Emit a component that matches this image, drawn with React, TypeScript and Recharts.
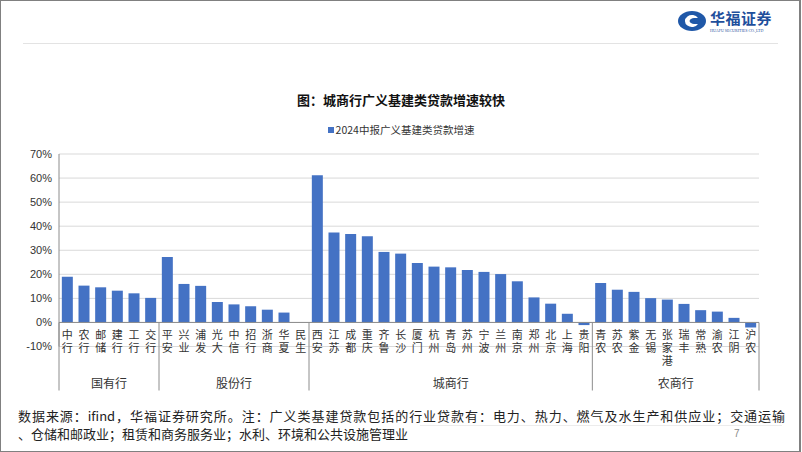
import React from "react";
import { BarChart, Bar, XAxis, YAxis, CartesianGrid, ReferenceLine } from "recharts";

const banks = [
  "中行", "农行", "邮储", "建行", "工行", "交行",
  "平安", "兴业", "浦发", "光大", "中信", "招行", "浙商", "华夏", "民生",
  "西安", "江苏", "成都", "重庆", "齐鲁", "长沙", "厦门", "杭州", "青岛", "苏州", "宁波", "兰州", "南京", "郑州", "北京", "上海", "贵阳",
  "青农", "苏农", "紫金", "无锡", "张家港", "瑞丰", "常熟", "渝农", "江阴", "沪农",
];
const growth = [
  19.0, 15.3, 14.6, 13.2, 12.1, 10.2,
  27.2, 16.0, 15.2, 8.5, 7.5, 6.7, 5.3, 4.1, 0,
  61.2, 37.4, 36.8, 35.8, 29.3, 28.6, 24.7, 23.2, 22.9, 21.8, 21.0, 20.1, 17.1, 10.4, 7.8, 3.6, -1.1,
  16.4, 13.6, 12.7, 10.1, 9.5, 7.7, 5.1, 4.5, 1.9, -2.1,
];
const groups = ["国有行", "股份行", "城商行", "农商行"];
const groupSizes = [6, 9, 17, 10];
const yTicks = [-10, 0, 10, 20, 30, 40, 50, 60, 70];

const data = banks.map((name, i) => ({ name, value: growth[i] }));

const cjk = '"Noto Sans CJK SC", "Noto Sans", sans-serif';
const blue = "#4472C4";

function CategoryTick(props: any) {
  const { x, y, payload, index } = props;
  const half = payload && payload.offset ? payload.offset : 8.33;
  const parts: React.ReactNode[] = [];
  let acc = 0;
  groupSizes.forEach((size, g) => {
    if (index === acc) {
      parts.push(
        <line key={"s" + g} x1={x - half} x2={x - half} y1={y - 24} y2={y + 44} stroke="#8c8c8c" strokeWidth={1} />
      );
      parts.push(
        <text key={"g" + g} x={x - half + size * half} y={y + 41} textAnchor="middle"
          fontSize={12} fill="#333" fontFamily={cjk}>
          {groups[g]}
        </text>
      );
    }
    acc += size;
  });
  if (index === banks.length - 1) {
    parts.push(<line key="end" x1={x + half} x2={x + half} y1={y - 24} y2={y + 44} stroke="#8c8c8c" strokeWidth={1} />);
  }
  return (
    <g>
      <text x={x} y={y - 17} fontSize={11} fill="#333" fontFamily={cjk}
        style={{ writingMode: "vertical-rl", letterSpacing: 2 } as any}>
        {String(payload.value)}
      </text>
      {parts}
    </g>
  );
}

function Logo() {
  return (
    <div style={{ position: "absolute", left: 677, top: 9, width: 100, height: 26 }}>
      <svg width={32} height={22} style={{ position: "absolute", left: 0, top: 1 }}>
        <ellipse cx={15} cy={11} rx={14} ry={10} fill="#1f58a8" />
        <path d="M 21 8 A 7 6 0 1 0 21 14 L 17 14 A 3.5 3 0 1 1 17 8 Z" fill="#fff" />
        <ellipse cx={15} cy={11} rx={2.5} ry={2} fill="#1f58a8" />
      </svg>
      <div style={{ position: "absolute", left: 33, top: 0, fontSize: 15, fontWeight: 700, color: "#1f4f9c",
        fontFamily: cjk, letterSpacing: 0.5, lineHeight: "18px", whiteSpace: "nowrap" }}>
        华福证券
      </div>
      <div style={{ position: "absolute", left: 33, top: 19, fontSize: 4, color: "#1f4f9c", fontFamily: "Liberation Serif, serif",
        whiteSpace: "nowrap", lineHeight: "5px" }}>
        HUAFU SECURITIES CO.,LTD
      </div>
    </div>
  );
}

export default function App() {
  return (
    <div style={{ position: "absolute", left: 0, top: 0, width: 802, height: 452, background: "#fff", overflow: "hidden" }}>
      <div style={{ position: "absolute", left: 0, top: 0, width: 798, height: 450, border: "1px solid #808080", borderWidth: "1px 2px 2px 1px" }} />
      <Logo />
      <div style={{ position: "absolute", left: 23, top: 43, width: 755, height: 1, background: "#e3e3e3" }} />
      <div style={{ position: "absolute", left: 0, top: 91, width: 802, textAlign: "center", fontSize: 13, fontWeight: 700,
        fontFamily: cjk, color: "#111", lineHeight: "18px" }}>
        图：城商行广义基建类贷款增速较快
      </div>
      <div style={{ position: "absolute", left: 0, top: 122, width: 802, textAlign: "center", fontSize: 10.5,
        fontFamily: cjk, color: "#333", lineHeight: "16px" }}>
        <span style={{ display: "inline-block", width: 6, height: 6, background: blue, marginRight: 2, verticalAlign: "1px" }} />
        2024中报广义基建类贷款增速
      </div>
      <div style={{ position: "absolute", left: 0, top: 0 }}>
        <BarChart width={802} height={452} data={data} margin={{ top: 154, right: 43, left: 9, bottom: 45.5 }}
          barCategoryGap="17%">
          <CartesianGrid horizontal vertical={false} stroke="#d9d9d9" />
          <XAxis dataKey="name" interval={0} axisLine={false} tickLine={false} tickSize={0} tickMargin={0}
            height={60} tick={<CategoryTick />} />
          <YAxis domain={[-10, 70]} ticks={yTicks} width={50} tickLine={false} tickSize={0} tickMargin={7}
            axisLine={{ stroke: "#8c8c8c" }} tickFormatter={(v: number) => v + "%"}
            tick={{ fontSize: 11, fill: "#333", fontFamily: "Liberation Sans, Arial, sans-serif" }} />
          <ReferenceLine y={0} stroke="#8c8c8c" />
          <Bar dataKey="value" fill={blue} isAnimationActive={false} />
        </BarChart>
      </div>
      <div style={{ position: "absolute", left: 18, top: 407, width: 767, fontSize: 13, fontFamily: cjk, color: "#222",
        lineHeight: "18px", textAlign: "justify", textAlignLast: "justify", whiteSpace: "nowrap" as any }}>
        数据来源：ifind，华福证券研究所。注：广义类基建贷款包括的行业贷款有：电力、热力、燃气及水生产和供应业；交通运输
      </div>
      <div style={{ position: "absolute", left: 420, top: 425, width: 362, height: 1, background: "#ececec" }} />
      <div style={{ position: "absolute", left: 18, top: 425, fontSize: 13, fontFamily: cjk, color: "#222",
        lineHeight: "18px", whiteSpace: "nowrap" }}>
        、仓储和邮政业；租赁和商务服务业；水利、环境和公共设施管理业
      </div>
      <div style={{ position: "absolute", left: 734, top: 427, fontSize: 10, fontFamily: "Liberation Sans, sans-serif", color: "#888",
        lineHeight: "14px" }}>
        7
      </div>
    </div>
  );
}
